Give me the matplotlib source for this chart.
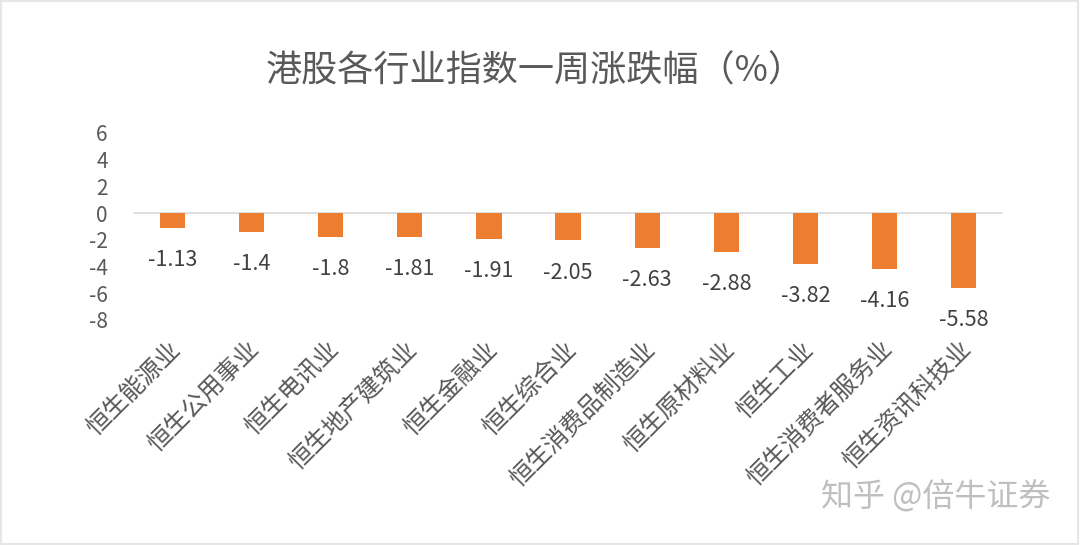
import matplotlib
matplotlib.use("Agg")
import matplotlib.pyplot as plt
from matplotlib.patches import Rectangle
from matplotlib.transforms import ScaledTranslation

plt.rcParams['font.family'] = ['Noto Sans CJK SC', 'DejaVu Sans']

categories = ["恒生能源业", "恒生公用事业", "恒生电讯业", "恒生地产建筑业", "恒生金融业",
              "恒生综合业", "恒生消费品制造业", "恒生原材料业", "恒生工业",
              "恒生消费者服务业", "恒生资讯科技业"]
values = [-1.13, -1.4, -1.8, -1.81, -1.91, -2.05, -2.63, -2.88, -3.82, -4.16, -5.58]
value_labels = ["-1.13", "-1.4", "-1.8", "-1.81", "-1.91", "-2.05", "-2.63", "-2.88",
                "-3.82", "-4.16", "-5.58"]
yticks = [6, 4, 2, 0, -2, -4, -6, -8]
title = "港股各行业指数一周涨跌幅（%）"

fig = plt.figure(figsize=(10.8, 5.45), dpi=100)
ax = fig.add_axes([0.123, 0.413, 0.806, 0.343])

x = list(range(len(categories)))
ax.bar(x, values, width=0.32, color="#ED7D31", zorder=3)
ax.axhline(0, color="#D9D9D9", linewidth=1.2, zorder=2)

for xi, v, lab in zip(x, values, value_labels):
    ax.text(xi, v - 2.4, lab, ha="center", va="center", fontsize=15.5, color="#404040")

ax.set_xlim(-0.5, len(categories) - 0.5)
ax.set_ylim(-8, 6)
ax.set_yticks(yticks)
ax.set_yticklabels([str(t) for t in yticks], fontsize=15, color="#595959")
ax.tick_params(axis="y", length=0, pad=18)
ax.set_xticks(x)
ax.set_xticklabels(categories, rotation=45, ha="right", va="top",
                   rotation_mode="anchor", fontsize=17.5, color="#595959")
ax.tick_params(axis="x", length=0, pad=12)
shift = ScaledTranslation(-5 / 100, 0, fig.dpi_scale_trans)
for lbl in ax.get_xticklabels():
    lbl.set_transform(lbl.get_transform() + shift)

for s in ax.spines.values():
    s.set_visible(False)

fig.text(0.496, 0.868, title, ha="center", va="center", fontsize=26, color="#595959")

fig.text(0.866, 0.088, "知乎 @倍牛证券", ha="center", va="center", fontsize=23,
         color="#BFBFBF")

fig.patches.append(Rectangle((0.001, 0.002), 0.997, 0.996, transform=fig.transFigure,
                             fill=False, edgecolor="#E6E6E6", linewidth=1.5))

fig.savefig("out.png", dpi=100, facecolor="white")
